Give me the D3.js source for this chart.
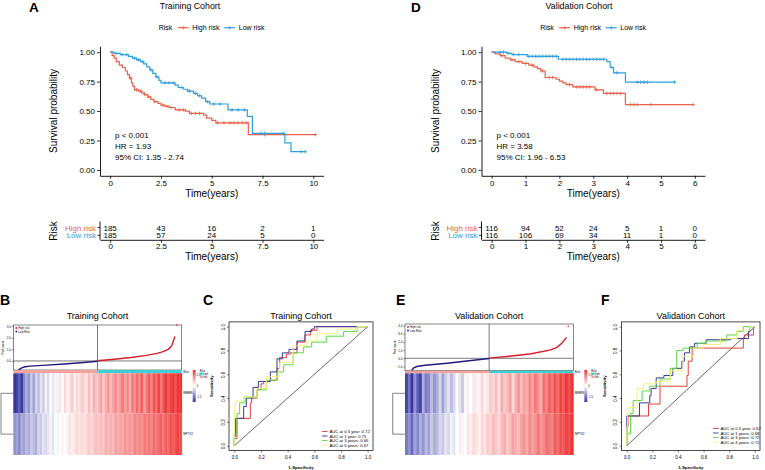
<!DOCTYPE html>
<html><head><meta charset="utf-8">
<script src="https://cdn.jsdelivr.net/npm/d3@7"></script>
<style>body{margin:0;background:#fff} svg{display:block} text{font-family:"Liberation Sans",Arial,sans-serif}</style>
</head><body><svg id="c" width="765" height="470"></svg>
<script>
// ---------------- DATA ----------------
const survTicks = [0, 0.25, 0.5, 0.75, 1];
const trainTimeTicks = [0, 2.5, 5, 7.5, 10];
const validTimeTicks = [0, 1, 2, 3, 4, 5, 6];
const groups = ["High risk", "Low risk"];

const trainHighSteps = [[0,1],[0.1,0.97],[0.2,0.95],[0.3,0.92],[0.45,0.89],[0.6,0.87],[0.75,0.84],[0.85,0.81],[0.95,0.78],[1.05,0.74],[1.12,0.71],[1.2,0.68],[1.4,0.67],[1.55,0.655],[1.7,0.64],[1.85,0.62],[2.0,0.6],[2.15,0.58],[2.35,0.565],[2.5,0.55],[2.7,0.54],[2.9,0.53],[3.2,0.51],[3.7,0.5],[3.9,0.48],[4.6,0.465],[4.75,0.44],[5.0,0.42],[5.2,0.40],[6.8,0.30]];
const trainHighEnd = 10.1;
const trainHighCens = [1.0,1.3,1.5,1.7,1.9,2.2,2.6,2.8,3.0,3.4,3.6,4.0,4.2,4.4,5.3,5.6,5.9,6.1,6.3,6.5,6.7,7.6,10.1];
const trainLowSteps = [[0,1],[0.2,0.99],[0.5,0.98],[0.9,0.965],[1.1,0.95],[1.3,0.935],[1.5,0.92],[1.65,0.9],[1.8,0.875],[1.95,0.85],[2.1,0.82],[2.25,0.79],[2.4,0.76],[2.5,0.74],[3.2,0.72],[3.35,0.70],[3.6,0.685],[3.8,0.67],[4.1,0.65],[4.3,0.63],[4.5,0.61],[4.7,0.58],[4.9,0.56],[5.8,0.51],[6.75,0.455],[7.0,0.31],[8.6,0.23],[8.9,0.155]];
const trainLowEnd = 9.6;
const trainLowCens = [0.3,0.6,0.8,1.2,1.4,1.6,2.0,2.3,2.7,2.9,3.1,3.5,3.9,4.2,4.4,4.8,5.1,5.4,6.0,6.3,6.6,7.4,7.6,8.5,9.4,9.6];

const validHighSteps = [[0,1],[0.1,0.985],[0.25,0.97],[0.4,0.95],[0.55,0.935],[0.7,0.92],[0.9,0.905],[1.1,0.89],[1.25,0.875],[1.35,0.86],[1.45,0.84],[1.58,0.785],[1.9,0.77],[2.0,0.755],[2.1,0.74],[2.2,0.725],[2.4,0.705],[3.05,0.68],[3.3,0.65],[3.95,0.555]];
const validHighEnd = 5.95;
const validHighCens = [0.3,0.6,0.8,1.0,1.2,1.5,1.7,1.8,2.3,2.5,2.6,2.7,2.8,2.9,3.1,3.4,3.5,3.6,3.7,3.8,4.1,4.2,4.3,4.7,5.95];
const validLowSteps = [[0,1],[0.45,0.99],[0.6,0.98],[1.05,0.965],[1.97,0.94],[3.4,0.92],[3.5,0.87],[3.6,0.825],[3.95,0.745]];
const validLowEnd = 5.43;
const validLowCens = [0.25,0.35,0.5,0.65,0.8,1.1,1.2,1.3,1.4,1.5,1.6,1.7,1.8,1.9,2.1,2.2,2.3,2.4,2.5,2.6,2.7,2.8,2.9,3.0,3.1,3.2,3.3,3.55,3.7,4.3,4.4,4.5,4.6,5.4];

const trainRiskHigh = [185, 43, 16, 2, 1];
const trainRiskLow  = [185, 57, 24, 5, 0];
const validRiskHigh = [116, 94, 52, 24, 5, 1, 0];
const validRiskLow  = [116, 106, 69, 34, 11, 1, 0];

const trainStats = ["p < 0.001", "HR = 1.93", "95% CI: 1.35 - 2.74"];
const validStats = ["p < 0.001", "HR = 3.58", "95% CI: 1.96 - 6.53"];

// risk score curves: [rank fraction, score]
const trainScoreLow  = [[0.03,-0.76],[0.05,-0.6],[0.07,-0.5],[0.1,-0.45],[0.2,-0.36],[0.3,-0.26],[0.4,-0.15],[0.5,-0.02]];
const trainScoreHigh = [[0.5,0.02],[0.6,0.15],[0.7,0.3],[0.8,0.5],[0.86,0.68],[0.89,0.8],[0.92,1.0],[0.94,1.3],[0.96,2.1]];
const trainOutlier = [[0.97, 3.1]];
const trainScoreTicks = [0, 1, 2, 3];
const validScoreLow  = [[0.04,-1.45],[0.05,-1.2],[0.07,-1.0],[0.12,-0.85],[0.25,-0.6],[0.38,-0.3],[0.5,-0.02]];
const validScoreHigh = [[0.5,0.02],[0.62,0.25],[0.75,0.55],[0.86,1.0],[0.9,1.3],[0.93,1.8],[0.96,2.55]];
const validOutlier = [[0.97, 3.9]];
const validScoreTicks = [-1, 0, 1, 2, 3, 4];

const geneNames = ["MMRN1", "NPTX2"];
const trainGene1 = [-1.5,-1.4,-1.2,-1.5,-0.9,-0.6,-0.8,-0.4,-0.7,-0.3,-0.5,-0.2,-0.4,-0.1,-0.3,0.0,-0.2,0.1,-0.1,0.2,0.0,0.3,0.1,0.2,0.4,0.1,0.3,0.2,0.4,0.3,0.2,0.5,0.3,0.6,0.4,0.5,0.7,0.4,0.6,0.8,0.5,0.7,0.9,0.6,0.8,1.0,0.7,0.9,0.6,1.0,0.8,1.1,0.9,1.2,0.7,1.0,1.2,0.9,1.3,1.1,1.4,1.0,1.3,1.5,1.2,1.4,1.5,1.3,1.5,1.5];
const trainGene2 = [-0.8,-0.7,-0.9,-0.6,-0.7,-0.5,-0.6,-0.4,-0.5,-0.6,-0.3,-0.4,-0.2,-0.3,-0.2,-0.1,-0.2,0.0,-0.1,0.0,0.1,0.0,0.1,0.2,0.1,0.2,0.3,0.2,0.3,0.2,0.3,0.4,0.3,0.4,0.5,0.4,0.5,0.4,0.6,0.5,0.6,0.5,0.7,0.6,0.7,0.6,0.8,0.7,0.8,0.7,0.9,0.8,0.9,0.8,1.0,0.9,1.0,0.9,1.1,1.0,1.1,1.2,1.0,1.2,1.1,1.3,1.2,1.3,1.4,1.3];
const validGene1 = [-1.4,-1.0,-1.5,-0.8,-1.2,-1.4,-0.6,-1.0,-0.9,-0.5,-0.8,-0.6,-0.3,-0.7,-0.4,-0.2,-0.5,-0.3,0.0,-0.2,-0.4,0.1,-0.1,0.0,0.2,-0.1,0.1,0.3,0.1,0.2,0.4,0.3,0.5,0.2,0.6,0.4,0.5,0.7,0.3,0.6,0.8,0.5,0.7,0.6,0.9,0.7,1.0,0.8,0.6,1.1,0.9,1.2,1.0,1.3,1.1,1.4,1.2,1.5,1.3,1.5];
const validGene2 = [-1.0,-0.8,-1.1,-0.7,-0.9,-0.6,-0.8,-0.5,-0.7,-0.4,-0.6,-0.5,-0.3,-0.4,-0.2,-0.3,-0.1,-0.2,0.0,-0.1,0.1,0.0,0.2,0.1,0.3,0.2,0.1,0.3,0.2,0.4,0.3,0.5,0.4,0.3,0.5,0.6,0.4,0.5,0.7,0.6,0.5,0.7,0.8,0.6,0.9,0.7,0.8,1.0,0.8,0.9,1.1,1.0,0.9,1.2,1.1,1.3,1.2,1.4,1.3,1.5];

const rocTicks = [0, 0.2, 0.4, 0.6, 0.8, 1.0];
const trainRoc05 = [[0,0],[0.02,0.06],[0.04,0.23],[0.12,0.23],[0.13,0.36],[0.17,0.40],[0.2,0.47],[0.22,0.52],[0.27,0.54],[0.32,0.55],[0.34,0.65],[0.39,0.74],[0.42,0.77],[0.47,0.78],[0.53,0.87],[0.57,0.93],[0.62,0.97],[0.79,1.0],[1,1]];
const trainRoc1  = [[0,0],[0.01,0.08],[0.03,0.23],[0.07,0.23],[0.09,0.33],[0.14,0.40],[0.18,0.49],[0.2,0.54],[0.27,0.54],[0.32,0.62],[0.36,0.73],[0.41,0.78],[0.47,0.81],[0.53,0.88],[0.58,0.96],[0.6,0.98],[0.8,1.0],[1,1]];
const trainRoc3  = [[0,0],[0.02,0.1],[0.04,0.27],[0.08,0.36],[0.17,0.41],[0.24,0.47],[0.32,0.55],[0.37,0.62],[0.44,0.68],[0.52,0.78],[0.58,0.83],[0.69,0.87],[0.82,0.92],[0.92,0.96],[1,1]];
const trainRoc5  = [[0,0],[0.01,0.33],[0.07,0.37],[0.17,0.41],[0.24,0.48],[0.34,0.58],[0.44,0.70],[0.54,0.84],[0.62,0.88],[0.77,0.94],[0.92,0.98],[1,1]];
const trainRocLabels = ["AUC at 0.5 year: 0.72", "AUC at 1 year: 0.75", "AUC at 3 years: 0.66", "AUC at 5 years: 0.67"];
const validRoc05 = [[0,0],[0.01,0.16],[0.03,0.25],[0.17,0.25],[0.18,0.35],[0.26,0.35],[0.27,0.5],[0.47,0.5],[0.48,0.59],[0.51,0.71],[0.62,0.82],[0.91,0.82],[0.92,0.90],[0.99,0.93],[1,1]];
const validRoc1  = [[0,0],[0.03,0.25],[0.10,0.25],[0.10,0.36],[0.18,0.36],[0.19,0.42],[0.23,0.48],[0.29,0.57],[0.36,0.59],[0.43,0.65],[0.45,0.71],[0.49,0.78],[0.53,0.83],[0.62,0.86],[0.81,0.89],[0.95,0.90],[0.96,0.96],[1,1]];
const validRoc3  = [[0,0],[0.03,0.1],[0.05,0.27],[0.12,0.38],[0.18,0.46],[0.26,0.50],[0.34,0.56],[0.39,0.65],[0.44,0.80],[0.55,0.82],[0.62,0.86],[0.78,0.88],[0.86,0.93],[0.91,0.96],[1,1]];
const validRoc4  = [[0,0],[0.005,0.16],[0.01,0.27],[0.08,0.32],[0.13,0.48],[0.23,0.52],[0.34,0.54],[0.44,0.63],[0.52,0.75],[0.6,0.82],[0.73,0.85],[0.86,0.90],[0.96,0.97],[1,1]];
const validRocLabels = ["AUC at 0.5 year: 0.62", "AUC at 1 years: 0.68", "AUC at 3 years: 0.72", "AUC at 4 years: 0.71"];

// ---------------- STYLE ----------------
const kmColors = ["#E8634A", "#2E9FDF"];
const rocColors = ["#E0403A", "#393993", "#5CD946", "#F1F17C"];
const heatColor = d3.scaleLinear().domain([-1.5, 0, 1.5]).range(["#3535A5", "#FFFFFF", "#EE3535"]);
const barColors = ["#F6A29C", "#3CD0D6"];

const svg = d3.select("#c");

function styleAxis(sel, fs) {
  sel.select(".domain").attr("stroke", "#000").attr("stroke-width", 0.9);
  sel.selectAll(".tick line").attr("stroke", "#000").attr("stroke-width", 0.8);
  sel.selectAll(".tick text").attr("fill", "#000").attr("font-size", fs).attr("font-family", "Liberation Sans, Arial, sans-serif");
}
function stepVal(steps, t) {
  let v = steps[0][1];
  for (const s of steps) if (s[0] <= t) v = s[1];
  return v;
}

function drawKM(c) {
  const g = svg.append("g");
  const x = d3.scaleLinear().domain(c.xDomain).range([c.left, c.right]);
  const y = d3.scaleLinear().domain([-0.05, 1.05]).range([175.8, 46.3]);
  g.append("text").attr("x", c.letterX).attr("y", 12).attr("font-size", 13.5).attr("font-weight", "bold").text(c.letter);
  g.append("text").attr("x", c.titleX).attr("y", 8.5).attr("text-anchor", "middle").attr("font-size", 8.8)
    .attr("font-family", "Open Sans, sans-serif").text(c.title);
  // legend
  const cx = (c.left + c.right) / 2, ly = 27.7;
  const lg = g.append("g").attr("font-size", 7);
  lg.append("text").attr("x", cx - 53).attr("y", ly + 2.5).text("Risk");
  [[-34, -19.5], [12.5, 27]].forEach((p, i) => {
    lg.append("line").attr("x1", cx + p[0]).attr("x2", cx + p[0] + 11).attr("y1", ly).attr("y2", ly).attr("stroke", kmColors[i]).attr("stroke-width", 1.2);
    lg.append("path").attr("d", `M${cx + p[0] + 5.5},${ly - 1.8}v3.6M${cx + p[0] + 3.7},${ly}h3.6`).attr("stroke", kmColors[i]).attr("stroke-width", 0.8);
    lg.append("text").attr("x", cx + p[1]).attr("y", ly + 2.5).text(groups[i]);
  });
  const ya = g.append("g").attr("transform", `translate(${c.left},0)`)
    .call(d3.axisLeft(y).tickValues(survTicks).tickFormat(d3.format(".2f")).tickSize(3).tickSizeOuter(0).tickPadding(2));
  styleAxis(ya, 8);
  const xa = g.append("g").attr("transform", "translate(0,175.8)")
    .call(d3.axisBottom(x).tickValues(c.ticks).tickFormat(d => String(d)).tickSize(3).tickSizeOuter(0).tickPadding(1.5));
  styleAxis(xa, 8);
  g.append("text").attr("x", cx).attr("y", 197).attr("text-anchor", "middle").attr("font-size", 10).text("Time(years)");
  g.append("text").attr("transform", `translate(${c.left - 43},${111}) rotate(-90)`).attr("text-anchor", "middle").attr("font-size", 10).text("Survival probability");
  const line = d3.line().curve(d3.curveStepAfter).x(d => x(d[0])).y(d => y(d[1]));
  [[c.high, c.highEnd, c.highCens], [c.low, c.lowEnd, c.lowCens]].forEach((s, i) => {
    const pts = s[0].concat([[s[1], s[0][s[0].length - 1][1]]]);
    g.append("path").datum(pts).attr("d", line).attr("fill", "none").attr("stroke", kmColors[i]).attr("stroke-width", 1.2);
    g.append("g").selectAll("path").data(s[2]).join("path")
      .attr("d", t => { const X = x(t), Y = y(stepVal(s[0], t)); return `M${X - 1.8},${Y}h3.6M${X},${Y - 1.8}v3.6`; })
      .attr("stroke", kmColors[i]).attr("stroke-width", 0.8);
  });
  c.stats.forEach((t, i) => g.append("text").attr("x", c.left + 15).attr("y", 138 + i * 11).attr("font-size", 8).text(t));
  // risk table
  const tg = g.append("g");
  const rowsY = [230.5, 238.4];
  [c.riskHigh, c.riskLow].forEach((r, i) => {
    tg.append("g").selectAll("text").data(r).join("text")
      .attr("x", (d, j) => x(c.ticks[j])).attr("y", rowsY[i]).attr("text-anchor", "middle").attr("font-size", 8).text(d => d);
    tg.append("text").attr("x", c.left - 4).attr("y", rowsY[i]).attr("text-anchor", "end").attr("font-size", 8).attr("fill", kmColors[i]).text(groups[i]);
    tg.append("line").attr("x1", c.left - 2.5).attr("x2", c.left).attr("y1", rowsY[i] - 3).attr("y2", rowsY[i] - 3).attr("stroke", "#000").attr("stroke-width", 0.8);
  });
  tg.append("line").attr("x1", c.left).attr("x2", c.left).attr("y1", 221.5).attr("y2", 239.8).attr("stroke", "#000").attr("stroke-width", 0.9);
  const xa2 = tg.append("g").attr("transform", "translate(0,239.8)")
    .call(d3.axisBottom(x).tickValues(c.ticks).tickFormat(d => String(d)).tickSize(3).tickSizeOuter(0).tickPadding(1));
  styleAxis(xa2, 8);
  tg.append("text").attr("x", cx).attr("y", 260).attr("text-anchor", "middle").attr("font-size", 10).text("Time(years)");
  tg.append("text").attr("transform", `translate(${c.left - 43},${231}) rotate(-90)`).attr("text-anchor", "middle").attr("font-size", 10).text("Risk");
}

drawKM({left: 100, right: 323.5, xDomain: [-0.5, 10.5], ticks: trainTimeTicks, letter: "A", letterX: 29, title: "Training Cohort", titleX: 190,
  high: trainHighSteps, highEnd: trainHighEnd, highCens: trainHighCens, low: trainLowSteps, lowEnd: trainLowEnd, lowCens: trainLowCens,
  stats: trainStats, riskHigh: trainRiskHigh, riskLow: trainRiskLow});
drawKM({left: 481.5, right: 705, xDomain: [-0.3, 6.3], ticks: validTimeTicks, letter: "D", letterX: 411, title: "Validation Cohort", titleX: 579,
  high: validHighSteps, highEnd: validHighEnd, highCens: validHighCens, low: validLowSteps, lowEnd: validLowEnd, lowCens: validLowCens,
  stats: validStats, riskHigh: validRiskHigh, riskLow: validRiskLow});

function drawRisk(c) {
  const g = svg.append("g");
  g.append("text").attr("x", c.letterX).attr("y", 305).attr("font-size", 14).attr("font-weight", "bold").text(c.letter);
  g.append("text").attr("x", (c.left + c.right) / 2).attr("y", 318.5).attr("text-anchor", "middle").attr("font-size", 9)
    .attr("font-family", "Open Sans, sans-serif").text(c.title);
  const x = d3.scaleLinear().domain([0, 1]).range([c.left, c.right]);
  const y = d3.scaleLinear().domain(c.scoreDomain).range([c.bottom, c.top]);
  g.append("rect").attr("x", c.left).attr("y", c.top).attr("width", c.right - c.left).attr("height", c.bottom - c.top)
    .attr("fill", "none").attr("stroke", "#333").attr("stroke-width", 0.6);
  g.append("line").attr("x1", c.left).attr("x2", c.right).attr("y1", y(0)).attr("y2", y(0)).attr("stroke", "#222").attr("stroke-width", 0.6);
  g.append("line").attr("x1", x(0.5)).attr("x2", x(0.5)).attr("y1", c.top).attr("y2", c.bottom).attr("stroke", "#222").attr("stroke-width", 0.6);
  const ya = g.append("g").attr("transform", `translate(${c.left},0)`)
    .call(d3.axisLeft(y).tickValues(c.scoreTicks).tickSize(1.5).tickPadding(1).tickSizeOuter(0));
  ya.select(".domain").remove();
  ya.selectAll(".tick line").attr("stroke", "#000").attr("stroke-width", 0.5);
  ya.selectAll(".tick text").attr("font-size", 3).attr("fill", "#000");
  g.append("text").attr("transform", `translate(${c.left - 9},${(c.top + c.bottom) / 2}) rotate(-90)`).attr("text-anchor", "middle").attr("font-size", 3).text("Risk score");
  const line = d3.line().x(d => x(d[0])).y(d => y(d[1]));
  g.append("path").datum(c.low).attr("d", line).attr("fill", "none").attr("stroke", "#1C1C7E").attr("stroke-width", 1.4);
  g.append("path").datum(c.high).attr("d", line).attr("fill", "none").attr("stroke", "#D41E26").attr("stroke-width", 1.4);
  g.selectAll("circle.o").data(c.outlier).join("circle").attr("cx", d => x(d[0])).attr("cy", d => y(d[1])).attr("r", 0.8).attr("fill", "#D41E26");
  // mini legend
  [["High risk", "#D41E26"], ["Low Risk", "#1C1C7E"]].forEach((l, i) => {
    g.append("circle").attr("cx", c.left + 3).attr("cy", c.top + 3 + i * 3.5).attr("r", 0.9).attr("fill", l[1]);
    g.append("text").attr("x", c.left + 5).attr("y", c.top + 4.1 + i * 3.5).attr("font-size", 2.8).text(l[0]);
  });
  // risk group bar
  g.append("rect").attr("x", c.left).attr("y", c.bottom).attr("width", x(0.5) - c.left).attr("height", c.barH).attr("fill", barColors[0]);
  g.append("rect").attr("x", x(0.5)).attr("y", c.bottom).attr("width", c.right - x(0.5)).attr("height", c.barH).attr("fill", barColors[1]);
  g.append("text").attr("x", c.right + 1.5).attr("y", c.bottom + 2.5).attr("font-size", 2.8).text("Risk");
  // heatmap
  const hTop = c.bottom + c.barH;
  const rowsY = [hTop, 413.3, 455];
  [c.gene1, c.gene2].forEach((row, r) => {
    const bx = d3.scaleBand().domain(d3.range(row.length)).range([c.left, c.right]);
    g.append("g").selectAll("rect").data(row).join("rect")
      .attr("x", (d, i) => bx(i)).attr("y", rowsY[r]).attr("width", bx.bandwidth() + 0.4).attr("height", rowsY[r + 1] - rowsY[r])
      .attr("fill", d => heatColor(d));
    g.append("text").attr("x", c.right + 1.5).attr("y", (rowsY[r] + rowsY[r + 1]) / 2 + 1).attr("font-size", 3).text(geneNames[r]);
  });
  // dendrogram
  const m1 = (rowsY[0] + rowsY[1]) / 2, m2 = (rowsY[1] + rowsY[2]) / 2;
  g.append("path").attr("d", `M${c.left},${m1}H${c.dendroX}V${m2}H${c.left}`).attr("fill", "none").attr("stroke", "#333").attr("stroke-width", 0.6);
  // colour bar
  const cbx = c.right + 11, cbTop = 370, cbBot = 402;
  const grad = svg.append("defs").append("linearGradient").attr("id", "g" + c.letter).attr("x1", 0).attr("x2", 0).attr("y1", 0).attr("y2", 1);
  [[0, heatColor(1.5)], [0.5, heatColor(0)], [1, heatColor(-1.5)]].forEach(s => grad.append("stop").attr("offset", s[0]).attr("stop-color", s[1]));
  g.append("rect").attr("x", cbx).attr("y", cbTop).attr("width", 3).attr("height", cbBot - cbTop).attr("fill", `url(#g${c.letter})`);
  [["1.5", 0.15], ["0", 0.5], ["-1.5", 0.85]].forEach(l => g.append("text").attr("x", cbx + 4).attr("y", cbTop + l[1] * (cbBot - cbTop) + 1).attr("font-size", 2.8).text(l[0]));
  g.append("text").attr("x", cbx + 7).attr("y", cbTop + 1.5).attr("font-size", 2.8).text("Risk");
  barColors.slice().reverse().forEach((col, i) => {
    g.append("rect").attr("x", cbx + 7).attr("y", cbTop + 2.5 + i * 3).attr("width", 3).attr("height", 2.6).attr("fill", col);
    g.append("text").attr("x", cbx + 10.5).attr("y", cbTop + 4.7 + i * 3).attr("font-size", 2.6).text(i ? "low" : "high");
  });
}

drawRisk({letter: "B", letterX: 0, title: "Training Cohort", left: 13.3, right: 181.7, top: 325, bottom: 370, barH: 3.3, dendroX: 1,
  scoreDomain: [-0.78, 3.1], scoreTicks: trainScoreTicks, low: trainScoreLow, high: trainScoreHigh, outlier: trainOutlier, gene1: trainGene1, gene2: trainGene2});
drawRisk({letter: "E", letterX: 396, title: "Validation Cohort", left: 405, right: 573.3, top: 324, bottom: 370.7, barH: 2.6, dendroX: 392.7,
  scoreDomain: [-1.51, 4.18], scoreTicks: validScoreTicks, low: validScoreLow, high: validScoreHigh, outlier: validOutlier, gene1: validGene1, gene2: validGene2});

function drawROC(c) {
  const g = svg.append("g");
  g.append("text").attr("x", c.letterX).attr("y", 305).attr("font-size", 14).attr("font-weight", "bold").text(c.letter);
  const x = d3.scaleLinear().domain([-0.04, 1.04]).range([c.left, c.right]);
  const y = d3.scaleLinear().domain([-0.04, 1.04]).range([c.bottom, c.top]);
  g.append("text").attr("x", (c.left + c.right) / 2).attr("y", 318.5).attr("text-anchor", "middle").attr("font-size", 9)
    .attr("font-family", "Open Sans, sans-serif").text(c.title);
  const line = d3.line().curve(d3.curveStepBefore).x(d => x(d[0])).y(d => y(d[1]));
  g.append("line").attr("x1", x(0)).attr("y1", y(0)).attr("x2", x(1)).attr("y2", y(1)).attr("stroke", "#000").attr("stroke-width", 0.6);
  c.curves.forEach((cv, i) => g.append("path").datum(cv).attr("d", line).attr("fill", "none").attr("stroke", rocColors[i]).attr("stroke-width", 1));
  g.append("rect").attr("x", c.left).attr("y", c.top).attr("width", c.right - c.left).attr("height", c.bottom - c.top)
    .attr("fill", "none").attr("stroke", "#000").attr("stroke-width", 0.7);
  const xa = g.append("g").attr("transform", `translate(0,${c.bottom})`).call(d3.axisBottom(x).tickValues(rocTicks).tickFormat(d3.format(".1f")).tickSize(2).tickPadding(3));
  xa.select(".domain").remove();
  xa.selectAll(".tick line").attr("stroke", "#000").attr("stroke-width", 0.5);
  xa.selectAll(".tick text").attr("font-size", 4.5).attr("fill", "#000");
  const ya = g.append("g").attr("transform", `translate(${c.left},0)`).call(d3.axisLeft(y).tickValues(rocTicks).tickFormat(d3.format(".1f")).tickSize(2));
  ya.select(".domain").remove();
  ya.selectAll(".tick line").attr("stroke", "#000").attr("stroke-width", 0.5);
  ya.selectAll(".tick text").attr("font-size", 4.5).attr("fill", "#000").attr("text-anchor", "middle").attr("dy", null)
    .attr("x", null).attr("transform", "translate(-6,0) rotate(-90)").attr("y", 1.5);
  g.append("text").attr("x", (c.left + c.right) / 2).attr("y", 468.5).attr("text-anchor", "middle").attr("font-size", 4.3).attr("font-weight", "bold").text("1-Specificity");
  g.append("text").attr("transform", `translate(${c.left - 16},${(c.top + c.bottom) / 2}) rotate(-90)`).attr("text-anchor", "middle").attr("font-size", 4.3).attr("font-weight", "bold").text("Sensitivity");
  c.labels.forEach((l, i) => {
    const ly = c.legY + i * 4.5;
    g.append("line").attr("x1", c.legX).attr("x2", c.legX + 5.5).attr("y1", ly).attr("y2", ly).attr("stroke", rocColors[i]).attr("stroke-width", 0.9);
    g.append("text").attr("x", c.legX + 7.5).attr("y", ly + 1.5).attr("font-size", 4.2).text(l);
  });
}

drawROC({letter: "C", letterX: 203, title: "Training Cohort", left: 229, right: 373, top: 321.9, bottom: 450.5, curves: [trainRoc05, trainRoc1, trainRoc3, trainRoc5],
  labels: trainRocLabels, legX: 322, legY: 431.5});
drawROC({letter: "F", letterX: 601, title: "Validation Cohort", left: 621.6, right: 760, top: 321.9, bottom: 450.5, curves: [validRoc05, validRoc1, validRoc3, validRoc4],
  labels: validRocLabels, legX: 713, legY: 428.5});
</script></body></html>
